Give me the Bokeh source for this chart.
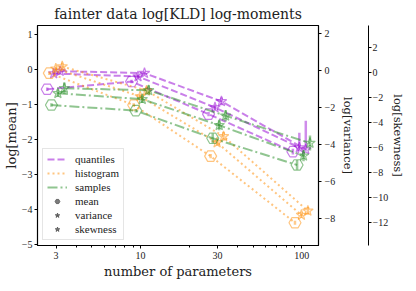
from bokeh.plotting import figure
from bokeh.models import Range1d, LinearAxis, FixedTicker, Legend, LegendItem
from bokeh.embed import file_html
from bokeh.resources import INLINE

# ---------------- data ----------------
n_params = [3, 10, 30, 100]
x_tick_labels = ["3", "10", "30", "100"]

methods = ["quantiles", "histogram", "samples"]
moments = ["mean", "variance", "skewness"]

# log-moments of KLD
quant_mean = [-0.57, -0.35, -1.28, -2.35]
quant_var = [-0.16, -0.32, -2.00, -4.17]
quant_skew = [0.08, -0.08, -2.33, -6.17]
hist_mean = [-0.11, -1.02, -2.48, -4.38]
hist_var = [0.10, -1.40, -3.90, -7.82]
hist_skew = [0.45, -1.47, -5.12, -11.06]
samp_mean = [-1.02, -1.18, -1.97, -2.73]
samp_var = [-1.23, -1.55, -2.96, -4.61]
samp_skew = [-1.28, -1.45, -3.48, -5.65]

# error bars (down, up)
quant_mean_err = [(0.05, 0.05), (0.05, 0.05), (0.06, 0.06), (0.08, 0.08)]
quant_var_err = [(0.12, 0.12), (0.12, 0.12), (0.15, 0.15), (0.15, 0.8)]
quant_skew_err = [(0.15, 0.15), (0.15, 0.15), (0.3, 0.3), (0.1, 2.3)]
hist_mean_err = [(0.05, 0.05), (0.05, 0.05), (0.06, 0.06), (0.06, 0.06)]
hist_var_err = [(0.12, 0.12), (0.12, 0.12), (0.15, 0.15), (0.15, 0.15)]
hist_skew_err = [(0.3, 0.3), (0.3, 0.3), (0.35, 0.35), (0.3, 0.3)]
samp_mean_err = [(0.05, 0.05), (0.05, 0.05), (0.14, 0.14), (0.14, 0.14)]
samp_var_err = [(0.2, 0.2), (0.2, 0.2), (0.27, 0.27), (0.3, 0.3)]
samp_skew_err = [(0.45, 0.45), (0.4, 0.4), (0.45, 0.45), (0.6, 0.6)]

# ---------------- style ----------------
FONT = "DejaVu Serif"
TICKFONT = "Liberation Serif"
colors = {"quantiles": "#9400D3", "histogram": "#FF8C00", "samples": "#228B22"}
dashes = {"quantiles": "7 3", "histogram": "2 3", "samples": "10 3 2 3"}
method_off = {"quantiles": 0.0, "histogram": 0.013, "samples": 0.026}
moment_off = {"mean": -0.055, "variance": -0.015, "skewness": 0.025}
markers = {"mean": "hex", "variance": "star_dot", "skewness": "star"}
msize = {"mean": 12, "variance": 11, "skewness": 11}
range_names = {"mean": "default", "variance": "var", "skewness": "skew"}

values = {
    ("quantiles", "mean"): (quant_mean, quant_mean_err),
    ("quantiles", "variance"): (quant_var, quant_var_err),
    ("quantiles", "skewness"): (quant_skew, quant_skew_err),
    ("histogram", "mean"): (hist_mean, hist_mean_err),
    ("histogram", "variance"): (hist_var, hist_var_err),
    ("histogram", "skewness"): (hist_skew, hist_skew_err),
    ("samples", "mean"): (samp_mean, samp_mean_err),
    ("samples", "variance"): (samp_var, samp_var_err),
    ("samples", "skewness"): (samp_skew, samp_skew_err),
}

p = figure(width=408, height=281, x_axis_type="log",
           x_range=Range1d(2.3, 127), y_range=Range1d(-5.03, 1.25),
           output_backend="svg", toolbar_location=None,
           title="fainter data log[KLD] log-moments",
           min_border_left=34, min_border_right=0, min_border_top=18, min_border_bottom=0)
p.extra_y_ranges = {"var": Range1d(-9.47, 2.44), "skew": Range1d(-13.82, 3.72)}

p.title.text_font = FONT
p.title.text_font_size = "14px"
p.title.text_font_style = "normal"
p.title.align = "center"
p.title.text_color = "#222222"
p.title.standoff = 7

p.grid.visible = False
p.outline_line_color = "black"
p.outline_line_width = 1.2
p.outline_line_alpha = 1.0


def style_axis(ax, label, size="13px"):
    ax.axis_label = label
    ax.axis_label_text_font = FONT
    ax.axis_label_text_font_size = size
    ax.axis_label_text_font_style = "normal"
    ax.axis_label_text_color = "#222222"
    ax.major_label_text_font = TICKFONT
    ax.major_label_text_font_size = "10px"
    ax.major_label_text_color = "#222222"
    ax.axis_line_color = "black"
    ax.major_tick_line_color = "black"
    ax.major_tick_out = 3
    ax.major_tick_in = 0
    ax.minor_tick_in = 0
    ax.axis_label_standoff = 3
    ax.major_label_standoff = 3


def minus(v):
    return ("\u2212" + str(abs(v))) if v < 0 else str(v)


# x axis
xa = p.xaxis[0]
xminor = [4, 5, 6, 7, 8, 9, 20, 40, 50, 60, 70, 80, 90]
xa.ticker = FixedTicker(ticks=n_params, minor_ticks=xminor)
xa.major_label_overrides = {n: lab for n, lab in zip(n_params, x_tick_labels)}
style_axis(xa, "number of parameters", "13px")
xa.minor_tick_out = 2
xa.minor_tick_line_color = "black"
xa.axis_label_standoff = 2
xa.major_label_standoff = 3

# left (mean) axis
ya = p.yaxis[0]
lticks = [-5, -4, -3, -2, -1, 0, 1]
ya.ticker = FixedTicker(ticks=lticks)
ya.major_label_overrides = {t: minus(t) for t in lticks}
style_axis(ya, "log[mean]", "13px")
ya.minor_tick_line_color = None
ya.axis_label_standoff = 0
ya.major_label_standoff = 2

# right (variance) axis
vticks = [-8, -6, -4, -2, 0, 2]
va = LinearAxis(y_range_name="var", ticker=FixedTicker(ticks=vticks))
va.major_label_overrides = {t: minus(t) for t in vticks}
style_axis(va, "log[variance]", "11.5px")
va.minor_tick_line_color = None
p.add_layout(va, "right")

# empty spacer between the two right axes
spacer = LinearAxis(y_range_name="var", ticker=FixedTicker(ticks=[]),
                    axis_line_color=None, major_tick_line_color=None,
                    minor_tick_line_color=None, major_tick_out=0, minor_tick_out=0,
                    axis_label=" ", axis_label_text_font_size="7px",
                    axis_label_standoff=0)
p.add_layout(spacer, "right")

# second right (skewness) axis
sticks = [-12, -10, -8, -6, -4, -2, 0, 2]
sa = LinearAxis(y_range_name="skew", ticker=FixedTicker(ticks=sticks))
sa.major_label_overrides = {t: minus(t) for t in sticks}
style_axis(sa, "log[skewness]", "11.5px")
sa.minor_tick_line_color = None
sa.major_label_standoff = 1
sa.axis_label_standoff = 0
p.add_layout(sa, "right")

line_renderers = {}
for m in methods:
    c = colors[m]
    for mo in moments:
        ys, errs = values[(m, mo)]
        xs = [n * 10 ** (method_off[m] + moment_off[mo]) for n in n_params]
        rn = range_names[mo]
        lr = p.line(xs, ys, line_color=c, line_alpha=0.5, line_width=2,
                    line_dash=dashes[m], y_range_name=rn)
        if mo == "mean":
            line_renderers[m] = lr
        lo = [y - e[0] for y, e in zip(ys, errs)]
        hi = [y + e[1] for y, e in zip(ys, errs)]
        p.segment(xs, lo, xs, hi, line_color=c, line_alpha=0.45, line_width=2.5,
                  y_range_name=rn)
        p.scatter(xs, ys, marker=markers[mo], size=msize[mo], fill_color=None,
                  line_color=c, line_alpha=0.5, line_width=1.2, y_range_name=rn)

# legend proxies for moments (placed outside the visible ranges)
proxy = {}
for mo in moments:
    proxy[mo] = p.scatter([1000], [100], marker=markers[mo], size=msize[mo],
                          fill_color="#444444", fill_alpha=0.7,
                          line_color="#444444", line_alpha=0.7)

items = [LegendItem(label=m, renderers=[line_renderers[m]]) for m in methods]
items += [LegendItem(label=mo, renderers=[proxy[mo]]) for mo in moments]
legend = Legend(items=items, location="bottom_left")
legend.label_text_font = TICKFONT
legend.label_text_font_size = "11px"
legend.label_text_color = "#222222"
legend.glyph_width = 20
legend.glyph_height = 12
legend.label_height = 12
legend.spacing = 2
legend.padding = 4
legend.margin = 5
legend.label_standoff = 8
legend.border_line_color = "#cccccc"
legend.border_line_width = 1
legend.background_fill_alpha = 0.8
p.add_layout(legend)

open("out.html", "w").write(file_html(p, INLINE))
